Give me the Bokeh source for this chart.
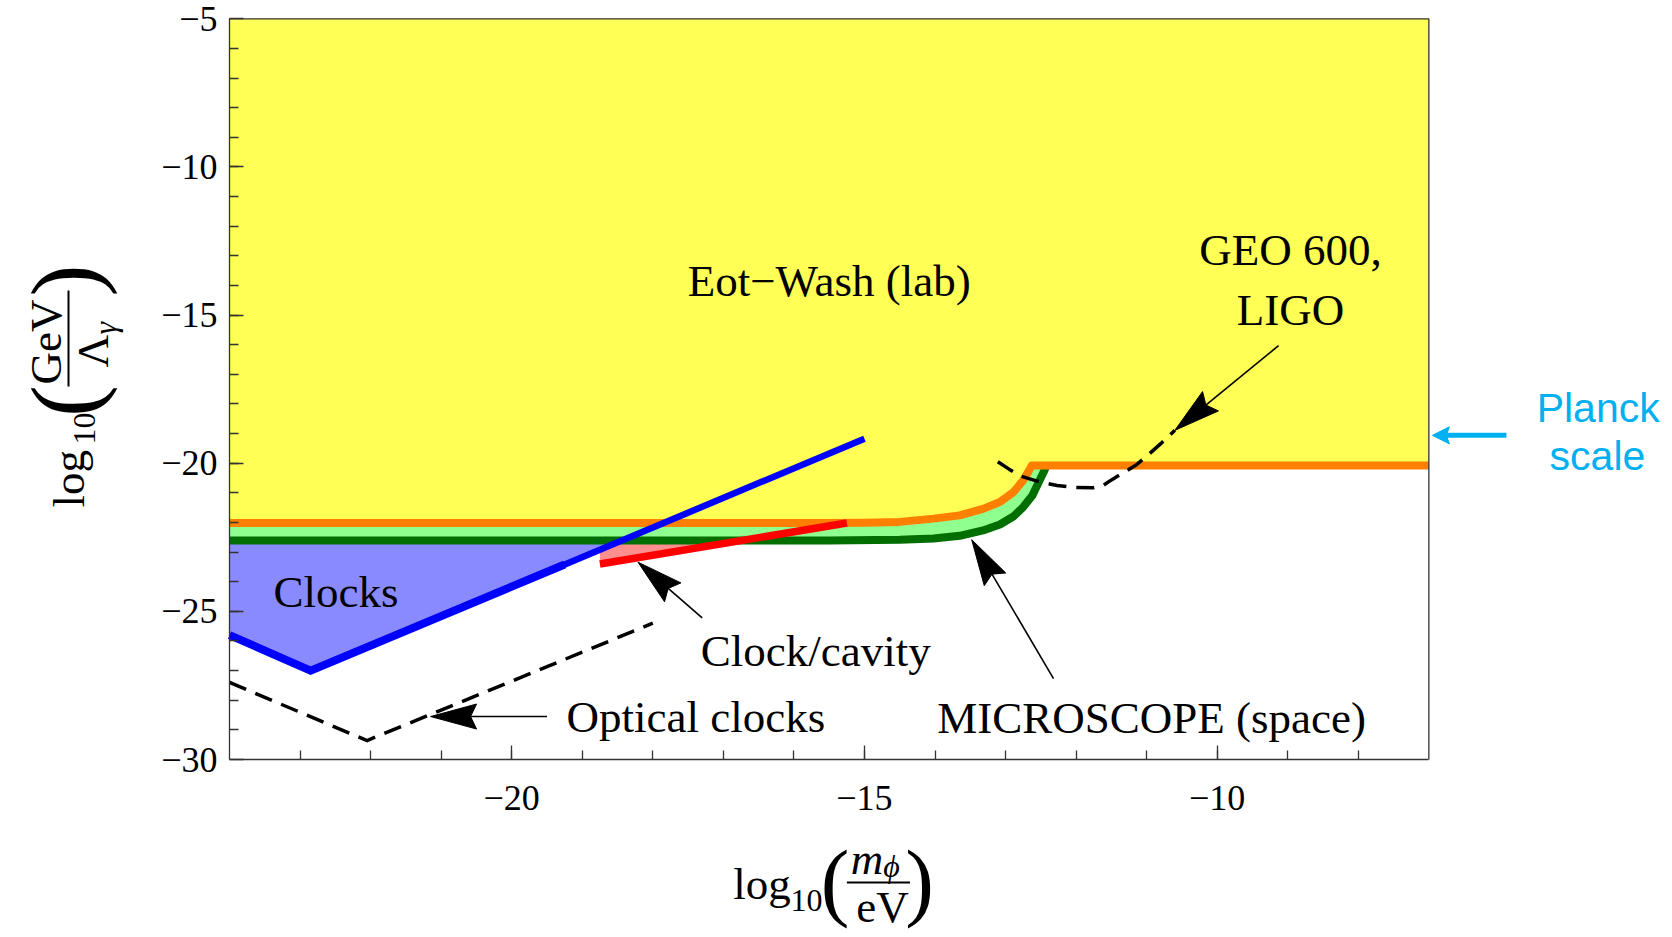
import numpy as np
from bokeh.plotting import figure
from bokeh.models import Range1d, FixedTicker, CustomJSTickFormatter
from bokeh.core.properties import value
from bokeh.embed import file_html
from bokeh.resources import INLINE

# ---------------- data ----------------
mass_major_ticks = [-20, -15, -10]
mass_minor_ticks = list(range(-23, -7))
coupling_major_ticks = [-30, -25, -20, -15, -10, -5]
coupling_minor_ticks = list(range(-29, -5))

x_min, x_max = -24, -7
y_min, y_max = -30, -5

# Eot-Wash (lab) boundary (orange)
eotwash_x = [-24.0, -15.6, -15.0, -14.5, -14.02, -13.65, -13.32, -13.08, -12.89, -12.75, -12.68, -12.63, -7.0]
eotwash_y = [-22.02, -22.02, -22.01, -21.98, -21.87, -21.76, -21.54, -21.31, -20.98, -20.58, -20.30, -20.08, -20.08]

# MICROSCOPE (space) boundary (dark green)
microscope_x = [-24.0, -15.5, -14.5, -14.02, -13.65, -13.32, -13.08, -12.89, -12.75, -12.62, -12.53, -12.46, -12.42]
microscope_y = [-22.61, -22.61, -22.58, -22.54, -22.45, -22.27, -22.07, -21.80, -21.48, -21.09, -20.64, -20.30, -20.08]

# Clocks (blue)
clocks_x = [-24.0, -22.85, -19.25]
clocks_y = [-25.80, -27.00, -23.42]
clocks_upper_x = [-19.45, -15.0]
clocks_upper_y = [-23.62, -19.17]

# Clock/cavity (red)
cavity_x = [-18.75, -15.25]
cavity_y = [-23.40, -22.02]

# Optical clocks projection (dashed)
optical_x = [-24.0, -22.05, -18.0]
optical_y = [-27.40, -29.36, -25.40]

# GEO 600 / LIGO (dashed)
geo_x = [-13.11, -12.95, -12.8, -12.67, -12.5, -12.27, -12.0, -11.76, -11.62, -11.51, -11.35, -11.16, -10.98, -10.8, -10.6]
geo_y = [-19.95, -20.2, -20.42, -20.52, -20.64, -20.75, -20.82, -20.83, -20.76, -20.58, -20.35, -20.08, -19.72, -19.34, -18.89]

planck_level = -19.06

# ---------------- geometry of the canvas ----------------
W, H = 1670, 935
SX, SY = 70.55, 29.628          # px per data unit
x_start = x_min - 229 / SX
x_end = x_start + W / SX
y_end = y_max + 18.3 / SY
y_start = y_end - H / SY

p = figure(width=W, height=H, x_range=Range1d(x_start, x_end), y_range=Range1d(y_start, y_end),
           output_backend="svg", toolbar_location=None)
p.min_border = 0
p.min_border_left = p.min_border_right = p.min_border_top = p.min_border_bottom = 0
p.outline_line_color = None
p.grid.visible = False
p.background_fill_color = "white"
p.border_fill_color = "white"

fmt = CustomJSTickFormatter(code="return tick < 0 ? '\u2212' + Math.abs(tick) : '' + tick;")
AX = "#333333"

xa = p.xaxis[0]
xa.fixed_location = y_min
xa.bounds = (x_min, x_max)
xa.ticker = FixedTicker(ticks=mass_major_ticks, minor_ticks=mass_minor_ticks)
xa.formatter = fmt
xa.major_label_standoff = 26

ya = p.yaxis[0]
ya.fixed_location = x_min
ya.bounds = (y_min, y_max)
ya.ticker = FixedTicker(ticks=coupling_major_ticks, minor_ticks=coupling_minor_ticks)
ya.formatter = fmt
ya.major_label_standoff = 12

for a in (xa, ya):
    a.axis_label = None
    a.major_tick_in = 14
    a.major_tick_out = 0
    a.minor_tick_in = 9
    a.minor_tick_out = 0
    a.axis_line_color = AX
    a.axis_line_width = 1.3
    a.major_tick_line_color = AX
    a.major_tick_line_width = 1.3
    a.minor_tick_line_color = AX
    a.minor_tick_line_width = 1.3
    a.major_label_text_font = "Liberation Serif"
    a.major_label_text_font_size = "36px"
    a.major_label_text_color = "black"

# ---------------- fills ----------------
ox, oy = np.array(eotwash_x), np.array(eotwash_y)
p.patch(list(ox) + [x_max, x_min], list(oy) + [y_max, y_max],
        fill_color="#FFFF55", line_color=None)

xj = microscope_x[-1]
mask = ox < xj
gx = list(ox[mask]) + [xj] + microscope_x[::-1]
gy = list(oy[mask]) + [float(np.interp(xj, ox, oy))] + microscope_y[::-1]
p.patch(gx, gy, fill_color="#8FFF8F", line_color=None)

level = microscope_y[0]
slope_b = (clocks_y[2] - clocks_y[1]) / (clocks_x[2] - clocks_x[1])
xi = clocks_x[1] + (level - clocks_y[1]) / slope_b
p.patch([x_min, xi, clocks_x[1], clocks_x[0]], [level, level, clocks_y[1], clocks_y[0]],
        fill_color="#8A8AFF", line_color=None)

slope_r = (cavity_y[1] - cavity_y[0]) / (cavity_x[1] - cavity_x[0])
xr = cavity_x[0] + (level - cavity_y[0]) / slope_r
yb = clocks_y[1] + slope_b * (cavity_x[0] - clocks_x[1])
p.patch([cavity_x[0], xr, xi, cavity_x[0]], [cavity_y[0], level, level, yb],
        fill_color="#FF8F8F", line_color=None)

# ---------------- lines ----------------
DASH = "18 10"
p.line(optical_x, optical_y, line_color="black", line_width=3.5, line_dash=DASH, line_join="miter")
p.line(microscope_x, microscope_y, line_color="#006E00", line_width=8, line_join="round")
p.line(eotwash_x, eotwash_y, line_color="#FF8000", line_width=8, line_join="round")
p.line(cavity_x, cavity_y, line_color="#FF0000", line_width=7.5)
p.line(clocks_x, clocks_y, line_color="#0000FF", line_width=8, line_join="miter")
p.line(clocks_upper_x, clocks_upper_y, line_color="#0000FF", line_width=6.5)
p.line(geo_x, geo_y, line_color="black", line_width=3.5, line_dash=DASH)

# frame border (top and right)
p.line([x_min, x_max, x_max], [y_max, y_max, y_min], line_color=AX, line_width=1.3)


# ---------------- arrows ----------------
def arrow(tail, tip, L, w, notch, color, shaft_w):
    tx, ty = tip[0] * SX, tip[1] * SY
    bx, by = tail[0] * SX, tail[1] * SY
    dx, dy = tx - bx, ty - by
    n = (dx * dx + dy * dy) ** 0.5
    ux, uy = dx / n, dy / n
    nx, ny = -uy, ux
    pts = [(tx, ty),
           (tx - L * ux + w * nx, ty - L * uy + w * ny),
           (tx - (L - notch) * ux, ty - (L - notch) * uy),
           (tx - L * ux - w * nx, ty - L * uy - w * ny)]
    hx = [q[0] / SX for q in pts]
    hy = [q[1] / SY for q in pts]
    p.line([tail[0], hx[2]], [tail[1], hy[2]], line_color=color, line_width=shaft_w)
    p.patch(hx, hy, fill_color=color, line_color=color, line_width=1)


arrow((-9.13, -16.03), (-10.60, -18.89), 46, 12.5, 6, "black", 1.6)
arrow((-12.32, -27.27), (-13.48, -22.58), 46, 12.5, 6, "black", 1.6)
arrow((-17.30, -25.22), (-18.21, -23.34), 46, 12.5, 6, "black", 1.6)
arrow((-19.50, -28.55), (-21.15, -28.55), 46, 12.5, 6, "black", 1.6)
arrow((-5.90, planck_level), (-6.95, planck_level), 17, 8.5, 3, "#00B0F0", 5)


# ---------------- texts (x, y given at the text baseline) ----------------
MID = 0.35  # em offset from baseline to the middle anchor


def txt(x, y, s, size, font="Liberation Serif", style="normal", align="center",
        angle=0.0, color="black"):
    off = MID * size
    if angle == 0.0:
        y = y + off / SY
    else:
        x = x - off / SX
    p.text(x=[x], y=[y], text=[s], text_font=value(font), text_font_size=value(f"{size}px"),
           text_font_style=style, text_align=align, text_baseline="middle",
           angle=angle, text_color=color)


F = 45
txt(-15.50, -14.37, "Eot\u2212Wash (lab)", F)
txt(-8.96, -13.32, "GEO 600,", F)
txt(-8.96, -15.35, "LIGO", F)
txt(-22.49, -24.88, "Clocks", F)
txt(-15.69, -26.86, "Clock/cavity", F)
txt(-17.39, -29.09, "Optical clocks", F)
txt(-10.93, -29.12, "MICROSCOPE (space)", F)

txt(-4.60, -18.62, "Planck", 41, font="Liberation Sans", color="#00B0F0")
txt(-4.61, -20.25, "scale", 41, font="Liberation Sans", color="#00B0F0")

# x axis label: log10( m_phi / eV )
txt(-16.86, -34.725, "log", F, align="left")
txt(-16.048, -35.13, "10", 32, align="left")
txt(-15.417, -35.10, "(", 86)
txt(-14.22, -35.10, ")", 86)
txt(-15.195, -33.88, "m", F, style="italic", align="left")
txt(-14.735, -33.98, "\u03d5", 32, style="italic", align="left")
p.line([-15.249, -14.354], [-34.15, -34.15], line_color="black", line_width=2)
txt(-14.744, -35.50, "eV", F)

# y axis label: log10( GeV / Lambda_gamma ), rotated
R = np.pi / 2
txt(-26.047, -21.494, "log", F, align="left", angle=R)
txt(-25.899, -19.368, "10", 32, align="left", angle=R)
txt(-25.857, -17.90, "(", 96, angle=R)
txt(-25.857, -13.833, ")", 96, angle=R)
txt(-26.381, -15.909, "GeV", F, angle=R)
p.line([-26.282, -26.282], [-14.169, -17.409], line_color="black", line_width=2)
txt(-25.715, -16.769, "\u039b", F, align="left", angle=R)
txt(-25.602, -15.656, "\u03b3", 32, style="italic", align="left", angle=R)

open("out.html", "w").write(file_html(p, INLINE))
